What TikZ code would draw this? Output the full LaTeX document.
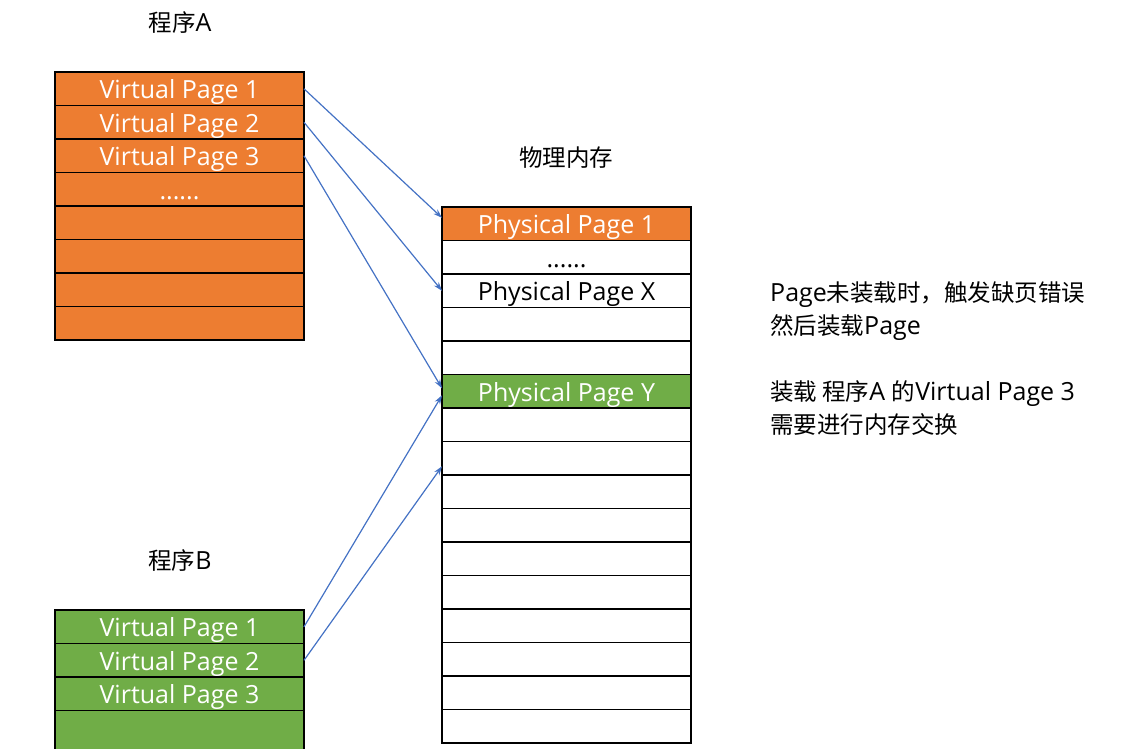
\documentclass[tikz,border=0pt]{standalone}
\usepackage{fontspec}
\setmainfont{Open Sans}
\newfontfamily\cjk[Scale=0.94]{Noto Sans CJK SC}
\usetikzlibrary{arrows.meta,positioning}
\definecolor{pageorange}{RGB}{237,125,49}
\definecolor{pagegreen}{RGB}{112,173,71}
\definecolor{linkblue}{RGB}{68,114,196}

\tikzset{
  pagebox/.style={draw, line width=1.4pt, minimum width=249pt, minimum height=33.5pt,
    inner sep=0pt, outer sep=0pt, text height=26pt, text depth=6pt,
    font=\fontsize{25}{30}\selectfont},
  orangebox/.style={pagebox, fill=pageorange, text=white},
  greenbox/.style={pagebox, fill=pagegreen, text=white},
  title/.style={font=\fontsize{25}{30}\selectfont, inner sep=0pt},
  note/.style={font=\fontsize{25}{30}\selectfont, inner sep=0pt, anchor=base west},
  link/.style={linkblue, line width=1.2pt, -{Stealth[length=9pt,width=6pt]}}
}

\begin{document}
\begin{tikzpicture}[x=1pt,y=-1pt]
\useasboundingbox (0,0) rectangle (1145,749);

% program A
\node[title] (titleA) at (180,23) {{\cjk 程序}A};
\node[orangebox] (a1) at (179.5,88.8) {Virtual Page 1};
\node[orangebox, below=0pt of a1] (a2) {Virtual Page 2};
\node[orangebox, below=0pt of a2] (a3) {Virtual Page 3};
\node[orangebox, below=0pt of a3] (a4) {......};
\foreach \i [count=\j from 4] in {5,...,8}
  \node[orangebox, below=0pt of a\j] (a\i) {};

% physical memory
\node[title] (titleP) at (566,158) {\cjk 物理内存};
\node[orangebox] (p1) at (566.5,223.8) {Physical Page 1};
\node[pagebox, below=0pt of p1] (p2) {......};
\node[pagebox, below=0pt of p2] (p3) {Physical Page X};
\node[pagebox, below=0pt of p3] (p4) {};
\node[pagebox, below=0pt of p4] (p5) {};
\node[greenbox, below=0pt of p5] (p6) {Physical Page Y};
\foreach \i [count=\j from 6] in {7,...,16}
  \node[pagebox, below=0pt of p\j] (p\i) {};

% program B
\node[title] (titleB) at (180,561) {{\cjk 程序}B};
\node[greenbox] (b1) at (179.5,626.8) {Virtual Page 1};
\node[greenbox, below=0pt of b1] (b2) {Virtual Page 2};
\node[greenbox, below=0pt of b2] (b3) {Virtual Page 3};
\node[greenbox, minimum height=50pt, below=0pt of b3] (b4) {};

% mappings
\draw[link] (a1.east) -- ([yshift=6pt]p1.west);
\draw[link] (a2.east) -- (p3.west);
\draw[link] (a3.east) -- ([yshift=3pt]p6.west);
\draw[link] (b1.east) -- ([yshift=-4pt]p6.west);
\draw[link] (b2.east) -- ([yshift=-8pt]p8.west);

% notes
\node[note] (n1) at (770,301) {Page{\cjk 未装载时，触发缺页错误}};
\node[note] (n2) at (770,334) {{\cjk 然后装载}Page};
\node[note] (n3) at (770,400) {{\cjk 装载 程序}A {\cjk 的}Virtual Page 3};
\node[note] (n4) at (770,433) {\cjk 需要进行内存交换};
\end{tikzpicture}
\end{document}
